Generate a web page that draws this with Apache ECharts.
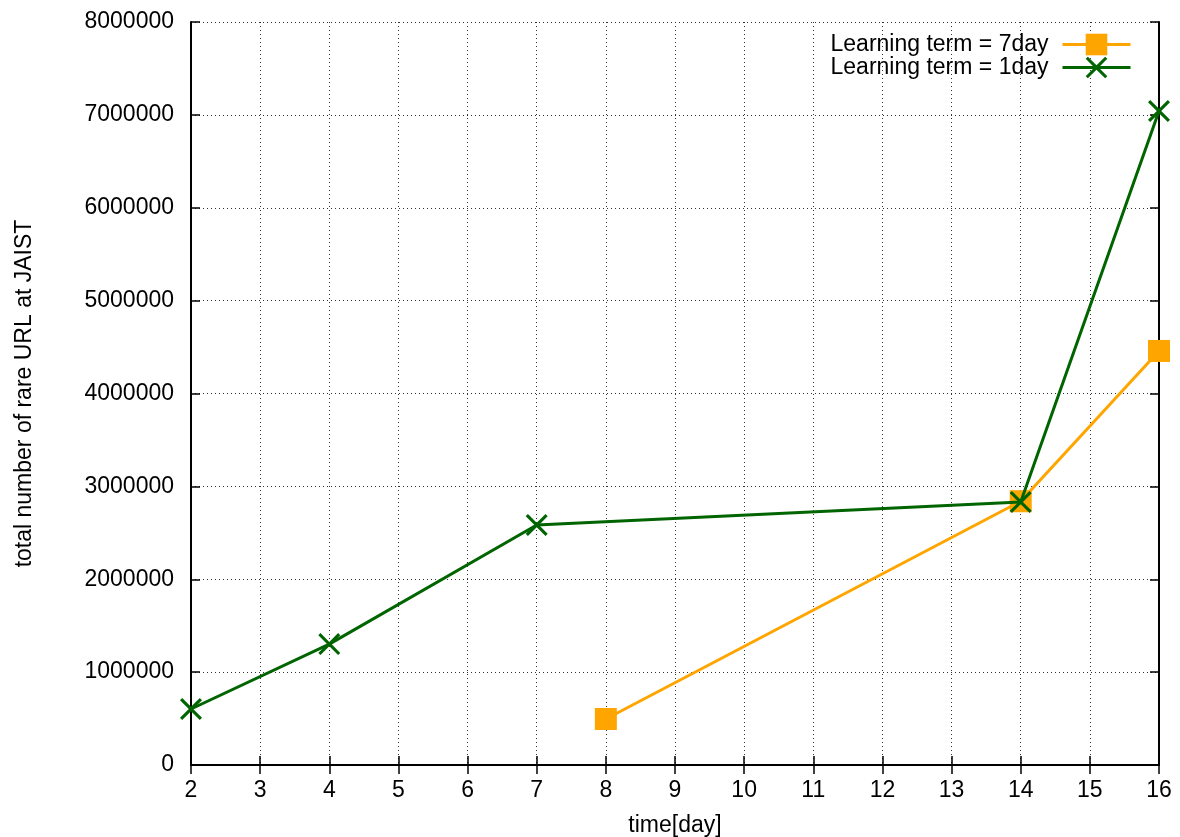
<!DOCTYPE html>
<html>
<head>
<meta charset="utf-8">
<script src="https://cdn.jsdelivr.net/npm/echarts@6/dist/echarts.min.js"></script>
<style>html,body{margin:0;padding:0;background:#fff;}#c{width:1180px;height:837px;}</style>
</head>
<body>
<div id="c"></div>
<script>
const xTicks = [2,3,4,5,6,7,8,9,10,11,12,13,14,15,16];
const yTicks = [0,1000000,2000000,3000000,4000000,5000000,6000000,7000000,8000000];
const seriesNames = ['Learning term = 7day', 'Learning term = 1day'];
const days7 = [8, 14, 16];
const values7 = [495000, 2840000, 4458000];
const days1 = [2, 4, 7, 14, 16];
const values1 = [603000, 1302000, 2584000, 2832000, 7042000];

const FONT = 'Liberation Sans';
const FS = 23;
const xPath = 'path://M0,2L2,0L10,8L18,0L20,2L12,10L20,18L18,20L10,12L2,20L0,18L8,10Z';

const chart = echarts.init(document.getElementById('c'));
const axisCommon = {
  type: 'value',
  axisLine: {show: true, lineStyle: {color: '#000', width: 2}},
  axisTick: {show: true, inside: true, length: 9, lineStyle: {color: '#000', width: 1.5}},
  minorTick: {show: false}
};
chart.setOption({
  animation: false,
  backgroundColor: '#fff',
  textStyle: {fontFamily: FONT},
  grid: {left: 191, right: 21, top: 22, bottom: 72, containLabel: false, outerBoundsMode: 'none'},
  legend: {
    data: seriesNames,
    right: 48, top: 33, orient: 'vertical', align: 'right',
    padding: 0, itemGap: 0, itemWidth: 68, itemHeight: 27,
    lineStyle: {width: 3},
    textStyle: {fontFamily: FONT, fontSize: FS, color: '#000', padding: [0, 9, 0, 0]},
    selectedMode: false
  },
  xAxis: [
    Object.assign({}, axisCommon, {
      min: xTicks[0], max: xTicks[xTicks.length-1], interval: 1,
      name: 'time[day]', nameLocation: 'middle', nameGap: 49,
      nameTextStyle: {fontFamily: FONT, fontSize: FS, color: '#000'},
      axisLabel: {fontFamily: FONT, fontSize: FS, color: '#000', margin: 14},
      splitLine: {show: true, lineStyle: {color: '#333', type: [1, 3], width: 1}}
    }),
    Object.assign({}, axisCommon, {
      position: 'top',
      min: xTicks[0], max: xTicks[xTicks.length-1], interval: 1,
      axisLabel: {show: false}, splitLine: {show: false}
    })
  ],
  yAxis: [
    Object.assign({}, axisCommon, {
      min: yTicks[0], max: yTicks[yTicks.length-1], interval: 1000000,
      name: 'total number of rare URL at JAIST', nameLocation: 'middle', nameGap: 155,
      nameTextStyle: {fontFamily: FONT, fontSize: FS, color: '#000'},
      axisLabel: {fontFamily: FONT, fontSize: FS, color: '#000', margin: 17, formatter: v => String(v)},
      splitLine: {show: true, lineStyle: {color: '#333', type: [1, 3], width: 1}}
    }),
    Object.assign({}, axisCommon, {
      position: 'right',
      min: yTicks[0], max: yTicks[yTicks.length-1], interval: 1000000,
      axisLabel: {show: false}, splitLine: {show: false}
    })
  ],
  series: [
    {
      name: seriesNames[0], type: 'line',
      data: days7.map((d, i) => [d, values7[i]]),
      symbol: 'rect', symbolSize: 22,
      lineStyle: {color: '#FFA500', width: 3},
      itemStyle: {color: '#FFA500'},
      z: 2
    },
    {
      name: seriesNames[1], type: 'line',
      data: days1.map((d, i) => [d, values1[i]]),
      symbol: xPath, symbolSize: 22,
      lineStyle: {color: '#006400', width: 3},
      itemStyle: {color: '#006400'},
      z: 3
    }
  ]
});
</script>
</body>
</html>
